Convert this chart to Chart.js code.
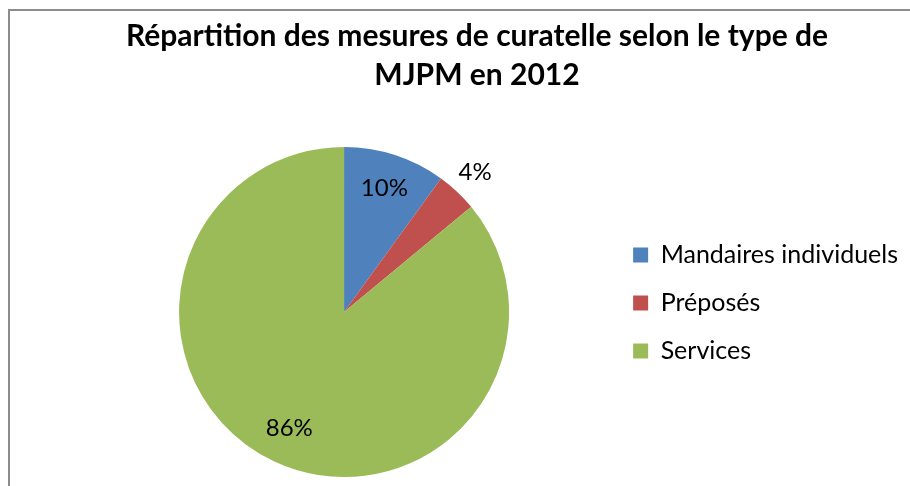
<!DOCTYPE html>
<html>
<head>
<meta charset="utf-8">
<script src="https://cdn.jsdelivr.net/npm/chart.js@4/dist/chart.umd.min.js"></script>
<style>
  html, body { margin: 0; padding: 0; background: #fff; overflow: hidden; }
  #frame {
    position: absolute; left: 8px; top: 9px;
    width: 960px; height: 520px;
    border-left: 2px solid #8c8c8c; border-top: 2px solid #8c8c8c;
  }
  #pie { position: absolute; left: 0; top: 0; }
</style>
</head>
<body>
<div id="frame"><canvas id="pie" width="932" height="477"></canvas></div>
<script>
const categories = ['Mandaires individuels', 'Préposés', 'Services'];
const shares = [10, 4, 86];
const colors = ['#4F81BD', '#C0504D', '#9BBB59'];
const titleLines = ['Répartition des mesures de curatelle selon le type de', 'MJPM en 2012'];

// how far from the centre each % label sits (fraction of the radius)
const labelRadius = [0.79, 1.16, 0.78];

const FONT = 'Lato, "Liberation Sans", sans-serif';

// percentage labels drawn from the arc geometry
const pctLabels = {
    id: 'pctLabels',
    afterDatasetsDraw(chart) {
        const ctx = chart.ctx;
        const meta = chart.getDatasetMeta(0);
        ctx.save();
        ctx.font = '24px ' + FONT;
        ctx.fillStyle = '#000';
        ctx.textAlign = 'center';
        ctx.textBaseline = 'middle';
        meta.data.forEach((arc, i) => {
            const p = arc.getProps(['x', 'y', 'startAngle', 'endAngle', 'outerRadius'], true);
            const mid = (p.startAngle + p.endAngle) / 2;
            const r = p.outerRadius * labelRadius[i];
            ctx.fillText(shares[i] + '%', p.x + Math.cos(mid) * r, p.y + Math.sin(mid) * r);
        });
        ctx.restore();
    }
};

// small position tweaks: legend a bit higher, title a bit to the left
const nudgeBoxes = {
    id: 'nudgeBoxes',
    afterLayout(chart) {
        chart.legend.top -= 9;
        chart.legend.bottom -= 9;
        chart.titleBlock.left -= 16;
        chart.titleBlock.right -= 16;
    }
};

new Chart(document.getElementById('pie'), {
    type: 'pie',
    data: {
        labels: categories,
        datasets: [{
            data: shares,
            backgroundColor: colors,
            borderWidth: 0
        }]
    },
    options: {
        responsive: false,
        animation: false,
        layout: {
            padding: { left: 68, right: 34, top: 0, bottom: 11 }
        },
        plugins: {
            title: {
                display: true,
                text: titleLines,
                color: '#000',
                font: { family: FONT, size: 30, weight: 'bold', lineHeight: 1.3 },
                padding: { top: 5.5, bottom: 52.5 }
            },
            legend: {
                position: 'right',
                fullSize: false,
                labels: {
                    color: '#000',
                    boxWidth: 15,
                    boxHeight: 15,
                    padding: 23,
                    font: { family: FONT, size: 25 }
                }
            },
            tooltip: { enabled: false }
        }
    },
    plugins: [pctLabels, nudgeBoxes]
});
</script>
</body>
</html>
